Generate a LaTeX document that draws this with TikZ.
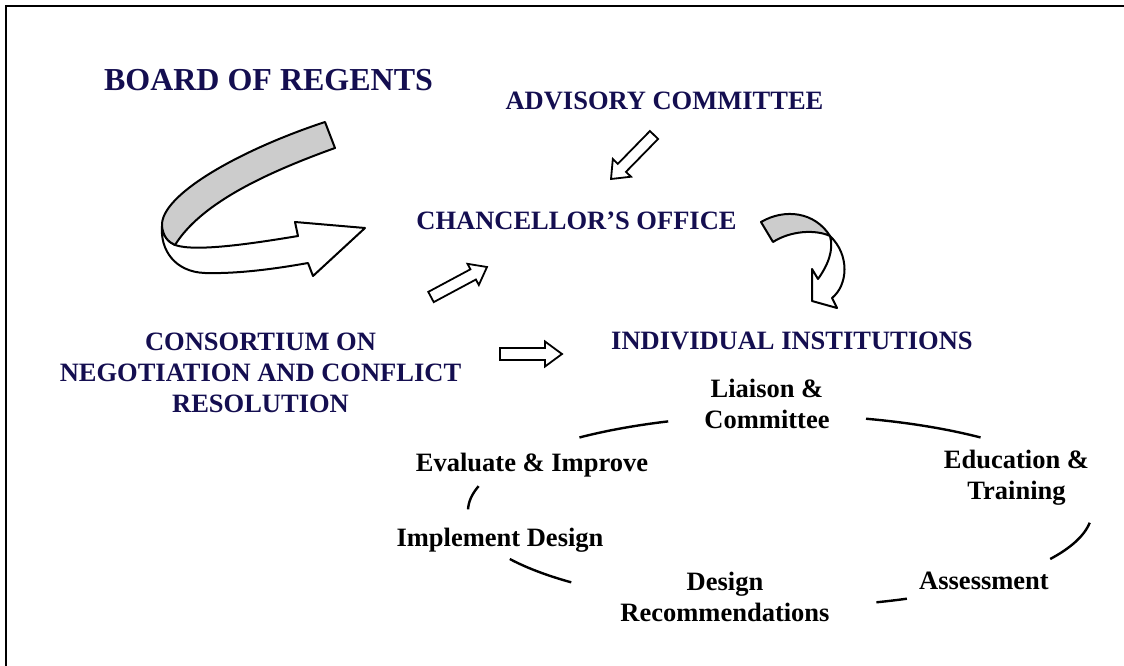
\documentclass[tikz,border=0pt]{standalone}
\usepackage{fontspec}
\setmainfont{Liberation Serif}
\usetikzlibrary{calc}
\definecolor{navy}{RGB}{20,14,80}
\definecolor{ribbon}{RGB}{204,204,204}
\tikzset{
  head/.style={font=\bfseries\fontsize{26.5}{31}\selectfont, text=navy, inner sep=0pt, align=center, anchor=base},
  lbl/.style={font=\bfseries\fontsize{26.5}{31}\selectfont, text=black, inner sep=0pt, align=center, anchor=base},
  blockarr/.style={draw=black, line width=1.8pt, fill=white, line join=miter},
  cyc/.style={line width=2.4pt},
  ribbonline/.style={draw=black, line width=2pt, line join=round},
  frame/.style={line width=2.5pt},
}
\newcommand\blockarrow[5]{%
  \coordinate (ba-h) at ($(#2)!#5!(#1)$);
  \draw[blockarr] ($(#1)!#3!90:(#2)$) -- ($(ba-h)!#3!90:(#2)$) -- ($(ba-h)!#4!90:(#2)$) -- (#2)
     -- ($(ba-h)!#4!-90:(#2)$) -- ($(ba-h)!#3!-90:(#2)$) -- ($(#1)!#3!-90:(#2)$) -- cycle;}
\begin{document}
\begin{tikzpicture}[x=1pt,y=-1pt]
\useasboundingbox (0,0) rectangle (1124,666);
% frame (top and left edges)
\coordinate (fr-tr) at (1124,6);
\coordinate (fr-tl) at (6,6);
\coordinate (fr-bl) at (6,666);
\draw[frame] (fr-tr) -- (fr-tl) -- (fr-bl);

% headings
\node[head, font=\bfseries\fontsize{32}{36}\selectfont] (bor) at (268.5,91) {BOARD OF REGENTS};
\node[head] (adv) at (664.5,110) {ADVISORY COMMITTEE};
\node[head] (cha) at (576.5,229) {CHANCELLOR’S OFFICE};
\node[head] (ind) at (792,349) {INDIVIDUAL INSTITUTIONS};
\node[head] (con) at (260.5,412) {CONSORTIUM ON\\NEGOTIATION AND CONFLICT\\RESOLUTION};

% cycle labels
\node[lbl] (lia) at (767,428) {Liaison \&\\Committee};
\node[lbl] (edu) at (1016.5,499) {Education \&\\Training};
\node[lbl] (ass) at (984,589) {Assessment};
\node[lbl] (des) at (725,621) {Design\\Recommendations};
\node[lbl] (imp) at (500,546) {Implement Design};
\node[lbl] (eva) at (532,471) {Evaluate \& Improve};

% cycle arcs (pieces of one ellipse)
\foreach \a/\b in {111/130, 50/74, -30/-7, -72/-66, 210/228, 165/179}
  \draw[cyc] plot[domain=\a:\b, samples=30, smooth] ({780+312*cos(\x)}, {511-96*sin(\x)});

% block arrows
\coordinate (a1t) at (654,135); \coordinate (a1h) at (611,179);
\blockarrow{a1t}{a1h}{5.7pt}{12.7pt}{15.6pt}
\coordinate (a2t) at (431,297); \coordinate (a2h) at (487,267);
\blockarrow{a2t}{a2h}{5.8pt}{12pt}{15.7pt}
\coordinate (a3t) at (500,354); \coordinate (a3h) at (562,354);
\blockarrow{a3t}{a3h}{6pt}{12.5pt}{17pt}

% curved ribbon arrow from Board of Regents
\draw[ribbonline, fill=white] (162,226) .. controls (160,250) and (175,272) .. (205,273)
   .. controls (240,274) and (280,268) .. (308,263) -- (313,276) -- (365,228) -- (295,222) -- (298,236)
   .. controls (250,244) and (195,252) .. (175,245) .. controls (168,242) and (163,236) .. (162,226) -- cycle;
\draw[ribbonline, fill=ribbon] (325,122) .. controls (240,150) and (160,195) .. (162,226)
   .. controls (163,236) and (168,242) .. (175,245)
   .. controls (200,205) and (260,175) .. (335,148) -- cycle;

% curved ribbon arrow from Chancellor's office
\draw[ribbonline, fill=white] (830,236) .. controls (850,255) and (848,285) .. (832,298) -- (837,308)
   -- (812,301) -- (812,269) -- (818,279) .. controls (828,265) and (834,250) .. (830,236) -- cycle;
\draw[ribbonline, fill=ribbon] (761,222) .. controls (785,208) and (815,212) .. (830,236)
   .. controls (815,229) and (790,231) .. (773,242) -- cycle;
\end{tikzpicture}
\end{document}
